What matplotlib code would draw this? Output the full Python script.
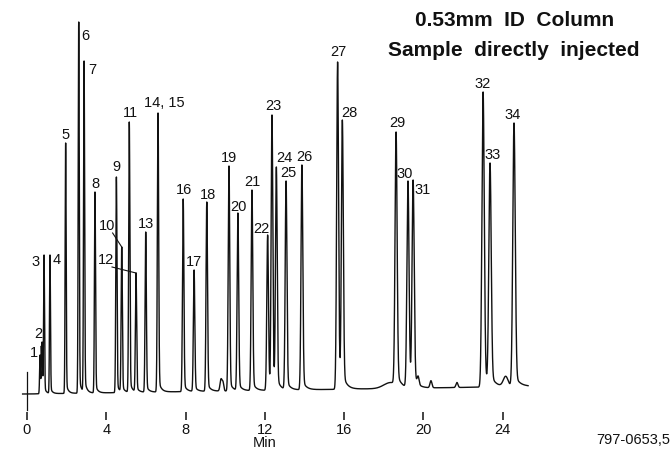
import numpy as np
import matplotlib
matplotlib.use("Agg")
import matplotlib.pyplot as plt

# ---- chromatogram data -------------------------------------------------
peak_labels = ["1", "2", "3", "4", "5", "6", "7", "8", "9", "10", "11", "12",
               "13", "14, 15", "16", "17", "18", "19", "20", "21", "22", "23",
               "24", "25", "26", "27", "28", "29", "30", "31", "32", "33", "34"]
peak_times = [0.66, 0.76, 0.86, 1.16, 1.95, 2.61, 2.88, 3.43, 4.51, 4.78, 5.16,
              5.50, 5.99, 6.61, 7.88, 8.43, 9.07, 10.19, 10.64, 11.35, 12.14,
              12.36, 12.58, 13.07, 13.87, 15.67, 15.91, 18.62, 19.22, 19.48,
              23.01, 23.36, 24.57]
peak_heights = [39, 52, 139, 139, 251, 372, 333, 202, 217, 147, 272, 121, 162,
                281, 195, 124, 192, 228, 181, 204, 159, 279, 227, 213, 229, 332,
                274, 262, 213, 214, 302, 231, 271]

# small unlabelled features on the trace
minor_times = [0.72, 9.79, 9.89, 18.35, 19.73, 20.38, 21.69, 24.15]
minor_heights = [33, 12, 8, 6, 8, 7, 5, 10]
minor_sigmas = [0.01, 0.05, 0.04, 0.35, 0.05, 0.05, 0.05, 0.12]

baseline_drift = 0.3          # detector units per minute
run_end = 25.28

tick_values = [0, 4, 8, 12, 16, 20, 24]

# label placement relative to each apex: (minutes, detector units)
label_offsets = [(-0.30, 2), (-0.20, 8), (-0.45, -7), (0.35, -5), (0, 8),
                 (0.35, -14), (0.40, -9), (0, 8), (0, 10), (-0.76, 21),
                 (0.05, 9), (-1.51, 13), (0, 8), (0.30, 10), (0.05, 9), (0, 8),
                 (0.05, 7), (0, 8), (0.05, 6), (0, 8), (-0.33, 6), (0.05, 9),
                 (0.38, 9), (0.10, 8), (0.10, 8), (0.02, 10), (0.33, 7),
                 (0.05, 9), (-0.15, 7), (0.50, -10), (-0.05, 8), (0.15, 8),
                 (-0.05, 8)]
leader_labels = {"10", "12"}


def sigma_at(t):
    return 0.022 + 0.0016 * t


def peak_shape(t, t0, s):
    z = (t - t0) / s
    g = np.exp(-0.5 * z * z)
    tail = np.where(t > t0, np.exp(-(t - t0) / (4 * s)), 0.0) * (1 - g)
    return g + 0.05 * tail


pt = np.array(peak_times)
ph = np.array(peak_heights, dtype=float)
ps = sigma_at(pt)


def minor_sum(t):
    out = np.zeros_like(np.asarray(t, dtype=float))
    for t0, h, s in zip(minor_times, minor_heights, minor_sigmas):
        out = out + h * np.exp(-0.5 * ((t - t0) / s) ** 2)
    return out


# amplitudes chosen so that the summed trace reaches each apex height
A = np.array([[peak_shape(np.array([ti]), tj, sj)[0] for tj, sj in zip(pt, ps)]
              for ti in pt])
target = ph - baseline_drift * pt - minor_sum(pt)
amps = np.linalg.solve(A, target)

t = np.arange(-0.22, run_end, 0.001)
signal = baseline_drift * np.clip(t, 0, None) + minor_sum(t)
for a, t0, s in zip(amps, pt, ps):
    signal = signal + a * peak_shape(t, t0, s)

# ---- figure -------------------------------------------------------------
label_font = ["Liberation Sans Narrow", "Liberation Sans", "DejaVu Sans"]
ink = "#111111"

fig = plt.figure(figsize=(6.71, 4.53), dpi=100)
ax = fig.add_axes([0, 0, 1, 1])
ax.set_xlim(-1.362, 32.49)
ax.set_ylim(-59, 394)

ax.plot(t, signal, color=ink, lw=1.0)
# injection marker
ax.plot([0, 0], [22, -16], color=ink, lw=0.9)

for lab, t0, h, (dx, dy) in zip(peak_labels, peak_times, peak_heights, label_offsets):
    ax.text(t0 + dx, h + dy, lab, ha="center", va="center", fontsize=10.5,
            family=label_font, color=ink)
    if lab in leader_labels:
        ax.plot([t0 + dx + 0.30, t0], [h + dy - 7, h], color=ink, lw=0.8)

for side in ["top", "right", "left", "bottom"]:
    ax.spines[side].set_color("none")
ax.spines["bottom"].set_position(("data", -18))
ax.set_xticks(tick_values)
ax.set_xticklabels([str(v) for v in tick_values], family=label_font, fontsize=10.5)
ax.tick_params(axis="x", direction="out", length=5.8, width=1.1, pad=2,
               color=ink, labelcolor=ink)
ax.set_yticks([])

ax.text(12, -49, "Min", ha="center", va="center", fontsize=10.5,
        family=label_font, color=ink)
ax.text(30.6, -46, "797-0653,5", ha="center", va="center", fontsize=10.5,
        family=label_font, color=ink)

ax.text(24.58, 373, "0.53mm  ID  Column", ha="center", va="center",
        fontsize=15, fontweight="bold", family="Liberation Sans", color=ink)
ax.text(24.55, 344, "Sample  directly  injected", ha="center", va="center",
        fontsize=15, fontweight="bold", family="Liberation Sans", color=ink)

fig.savefig("out.png", dpi=100)
